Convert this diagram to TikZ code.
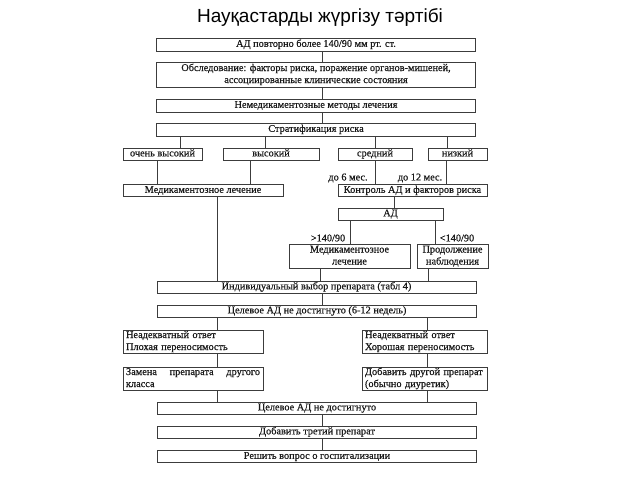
\documentclass[tikz,border=0pt]{standalone}
\usepackage{fontspec}
\setmainfont{Liberation Serif}[FakeBold=0.6]
\newfontfamily\titlefont{Liberation Sans}
\usepackage{tikz}
\usetikzlibrary{positioning,calc}
\definecolor{fcLine}{HTML}{3C3C3C}
\definecolor{fcText}{HTML}{1A1A1A}
\tikzset{
  fcnode/.style={
    draw=fcLine, line width=0.9pt, inner xsep=3pt, inner ysep=0pt,
    font=\fontsize{10.3}{12}\selectfont, text=fcText, align=center
  },
  oneline/.style={text height=7pt, text depth=2.3pt},
  twoline/.style={text height=8pt, text depth=15pt},
  wide/.style={fcnode, minimum width=319pt, minimum height=12pt},
  risk/.style={fcnode, oneline, minimum height=12pt},
  pair/.style={fcnode, text height=20.5pt, text depth=3.5pt},
  leftbox/.style={fcnode, twoline, align=left},
  fctag/.style={font=\fontsize{10.3}{12}\selectfont, text=fcText, inner sep=0pt},
  link/.style={draw=fcLine, line width=0.9pt}
}

\begin{document}
\begin{tikzpicture}[x=1pt, y=-1pt]
  \useasboundingbox (0,0) rectangle (640,480);
  \node[font=\titlefont\fontsize{19}{22}\selectfont, anchor=base] (t) at (320,22) {Науқастарды жүргізу тәртібі};

  \node[wide, oneline, minimum height=13pt] (bp) at (316,44.5) {АД повторно более 140/90 мм рт. ст.};
  \node[wide, text height=21pt, text depth=4pt] (ob) at (316,74.5) {Обследование: факторы риска, поражение органов-мишеней,\\ассоциированные клинические состояния};
  \node[wide, oneline, minimum height=13pt] (nm) at (316,105.5) {Немедикаментозные методы лечения};
  \node[wide, oneline, minimum height=13pt] (st) at (316,129.5) {Стратификация риска};

  \node[risk, minimum width=79pt] (vh) at (162.5,154) {очень высокий};
  \node[risk, minimum width=96pt] (hi) at (271,154) {высокий};
  \node[risk, minimum width=74pt] (md) at (375,154) {средний};
  \node[risk, minimum width=59pt] (lo) at (457.5,154) {низкий};

  \node[risk, minimum width=160pt] (m1) at (203,190.5) {Медикаментозное лечение};
  \node[risk, minimum width=149pt] (kt) at (412.5,190.5) {Контроль АД и факторов риска};
  \node[fctag] (l6) at (348,178) {до 6 мес.};
  \node[fctag] (l12) at (420,178) {до 12 мес.};

  \node[risk, minimum width=105pt] (ad) at (390.5,214) {АД};
  \node[fctag] (gt) at (328,238) {>140/90};
  \node[fctag] (lt) at (457,238) {<140/90};
  \node[pair, minimum width=121pt] (m2) at (349.5,256) {Медикаментозное\\лечение};
  \node[pair, minimum width=71pt] (pr) at (452.5,256) {Продолжение\\наблюдения};

  \node[wide, oneline] (in) at (316.5,287) {Индивидуальный выбор препарата (табл 4)};
  \node[wide, oneline] (c1) at (317,311) {Целевое АД не достигнуто (6-12 недель)};

  \node[leftbox, text width=134pt] (bl) at (193,341.5) {Неадекватный ответ\\Плохая переносимость};
  \node[leftbox, text width=119pt] (br) at (424.5,341.5) {Неадекватный ответ\\Хорошая переносимость};
  \node[leftbox, align=justify, text width=134pt] (sw) at (193,378.5) {Замена препарата другого\linebreak класса};
  \node[leftbox, text width=119pt] (ad2) at (424.5,378.5) {Добавить другой препарат\\(обычно диуретик)};

  \node[wide, oneline] (c2) at (317,408) {Целевое АД не достигнуто};
  \node[wide, oneline] (th) at (317,432) {Добавить третий препарат};
  \node[wide, oneline] (hs) at (317,456.5) {Решить вопрос о госпитализации};

  \foreach \n/\x in {cm/322, r1/180, r2/265, r3/375, r4/447, d1/157, d2/250, d4/446,
                     kx/394, a1/350, a2/435, p1/320, p2/428, n1/217, n2/427}
    \coordinate (\n) at (\x,0);

  \foreach \a/\b in {bp/ob, ob/nm, nm/st, in/c1, c2/th, th/hs}
    \draw[link] (\a.south -| cm) -- (\b.north -| cm);
  \foreach \b/\c in {vh/r1, hi/r2, md/r3, lo/r4}
    \draw[link] (st.south -| \c) -- (\b.north -| \c);
  \draw[link] (vh.south -| d1) -- (m1.north -| d1);
  \draw[link] (hi.south -| d2) -- (m1.north -| d2);
  \draw[link] (md.south -| r3) -- (kt.north -| r3);
  \draw[link] (lo.south -| d4) -- (kt.north -| d4);
  \draw[link] (kt.south -| kx) -- (ad.north -| kx);
  \draw[link] (ad.south -| a1) -- (m2.north -| a1);
  \draw[link] (ad.south -| a2) -- (pr.north -| a2);
  \draw[link] (m1.south -| n1) -- (in.north -| n1);
  \draw[link] (m2.south -| p1) -- (in.north -| p1);
  \draw[link] (pr.south -| p2) -- (in.north -| p2);
  \draw[link] (c1.south -| n1) -- (bl.north -| n1);
  \draw[link] (c1.south -| n2) -- (br.north -| n2);
  \draw[link] (bl.south -| n1) -- (sw.north -| n1);
  \draw[link] (br.south -| n2) -- (ad2.north -| n2);
  \draw[link] (sw.south -| n1) -- (c2.north -| n1);
  \draw[link] (ad2.south -| n2) -- (c2.north -| n2);
\end{tikzpicture}
\end{document}
